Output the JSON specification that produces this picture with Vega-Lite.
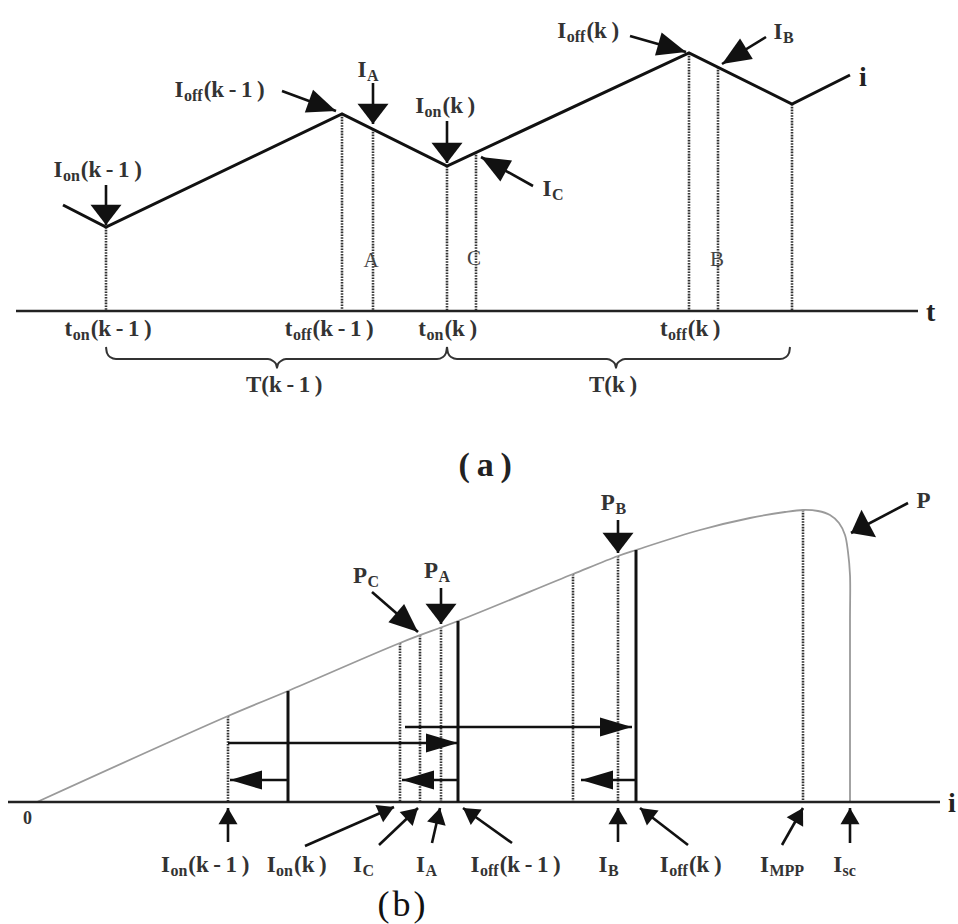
{
  "$schema": "https://vega.github.io/schema/vega-lite/v6.json",
  "width": 958,
  "height": 924,
  "autosize": {"type": "fit", "contains": "padding"},
  "padding": 0,
  "background": "white",
  "config": {"view": {"stroke": null}},
  "datasets": {
    "axes": [
      {"x": 16, "y": 311, "x2": 918, "y2": 311},
      {"x": 8, "y": 802, "x2": 940, "y2": 802}
    ],
    "bars": [
      {"x": 288, "y": 691, "y2": 802},
      {"x": 458, "y": 621, "y2": 802},
      {"x": 636, "y": 550, "y2": 802}
    ],
    "dots": [
      {"x": 106, "y": 227, "y2": 311},
      {"x": 342, "y": 114, "y2": 311},
      {"x": 373, "y": 129, "y2": 311},
      {"x": 447, "y": 166, "y2": 311},
      {"x": 476, "y": 152, "y2": 311},
      {"x": 689, "y": 53, "y2": 311},
      {"x": 718, "y": 67, "y2": 311},
      {"x": 792, "y": 104, "y2": 311},
      {"x": 228, "y": 716, "y2": 802},
      {"x": 400, "y": 643, "y2": 802},
      {"x": 420, "y": 635, "y2": 802},
      {"x": 441, "y": 627, "y2": 802},
      {"x": 573, "y": 574, "y2": 802},
      {"x": 618, "y": 556, "y2": 802},
      {"x": 803, "y": 510, "y2": 802}
    ],
    "wave": [
      {"o": 1, "x": 63, "y": 205},
      {"o": 2, "x": 106, "y": 227},
      {"o": 3, "x": 342, "y": 114},
      {"o": 4, "x": 447, "y": 166},
      {"o": 5, "x": 689, "y": 53},
      {"o": 6, "x": 792, "y": 104},
      {"o": 7, "x": 850, "y": 75}
    ],
    "pcurve": [
      {"o": 1, "x": 37, "y": 802},
      {"o": 2, "x": 228, "y": 716},
      {"o": 3, "x": 288, "y": 691},
      {"o": 4, "x": 400, "y": 643},
      {"o": 5, "x": 458, "y": 621},
      {"o": 6, "x": 573, "y": 574},
      {"o": 7, "x": 618, "y": 556},
      {"o": 8, "x": 636, "y": 550},
      {"o": 9, "x": 700, "y": 530},
      {"o": 10, "x": 750, "y": 518},
      {"o": 11, "x": 785, "y": 512},
      {"o": 12, "x": 803, "y": 510},
      {"o": 13, "x": 818, "y": 511},
      {"o": 14, "x": 830, "y": 515},
      {"o": 15, "x": 839, "y": 523},
      {"o": 16, "x": 845, "y": 535},
      {"o": 17, "x": 848, "y": 552},
      {"o": 18, "x": 850, "y": 575},
      {"o": 19, "x": 850, "y": 620},
      {"o": 20, "x": 850, "y": 802}
    ],
    "braces": [
      {"b": 1, "o": 1, "x": 106, "y": 347},
      {"b": 1, "o": 2, "x": 107, "y": 353},
      {"b": 1, "o": 3, "x": 110, "y": 357},
      {"b": 1, "o": 4, "x": 116, "y": 359},
      {"b": 1, "o": 5, "x": 268, "y": 359},
      {"b": 1, "o": 6, "x": 273, "y": 361},
      {"b": 1, "o": 7, "x": 276, "y": 364},
      {"b": 1, "o": 8, "x": 277, "y": 368},
      {"b": 1, "o": 9, "x": 278, "y": 364},
      {"b": 1, "o": 10, "x": 281, "y": 361},
      {"b": 1, "o": 11, "x": 286, "y": 359},
      {"b": 1, "o": 12, "x": 437, "y": 359},
      {"b": 1, "o": 13, "x": 443, "y": 357},
      {"b": 1, "o": 14, "x": 446, "y": 353},
      {"b": 1, "o": 15, "x": 447, "y": 347},
      {"b": 2, "o": 1, "x": 447, "y": 347},
      {"b": 2, "o": 2, "x": 448, "y": 353},
      {"b": 2, "o": 3, "x": 451, "y": 357},
      {"b": 2, "o": 4, "x": 457, "y": 359},
      {"b": 2, "o": 5, "x": 607, "y": 359},
      {"b": 2, "o": 6, "x": 612, "y": 361},
      {"b": 2, "o": 7, "x": 615, "y": 364},
      {"b": 2, "o": 8, "x": 616, "y": 368},
      {"b": 2, "o": 9, "x": 617, "y": 364},
      {"b": 2, "o": 10, "x": 620, "y": 361},
      {"b": 2, "o": 11, "x": 625, "y": 359},
      {"b": 2, "o": 12, "x": 780, "y": 359},
      {"b": 2, "o": 13, "x": 786, "y": 357},
      {"b": 2, "o": 14, "x": 789, "y": 353},
      {"b": 2, "o": 15, "x": 790, "y": 347}
    ],
    "arrows": [
      {"x": 106, "y": 225, "x2": 106, "y2": 185, "dir": 180, "h": "blunt"},
      {"x": 336, "y": 111, "x2": 282, "y2": 91, "dir": 110, "h": "dart"},
      {"x": 373, "y": 124, "x2": 373, "y2": 83, "dir": 180, "h": "blunt"},
      {"x": 447, "y": 163, "x2": 447, "y2": 121, "dir": 180, "h": "blunt"},
      {"x": 481, "y": 157, "x2": 533, "y2": 186, "dir": 299, "h": "dart"},
      {"x": 686, "y": 52, "x2": 630, "y2": 36, "dir": 106, "h": "dart"},
      {"x": 722, "y": 64, "x2": 766, "y2": 37, "dir": 238, "h": "dart"},
      {"x": 418, "y": 632, "x2": 372, "y2": 592, "dir": 131, "h": "dart"},
      {"x": 441, "y": 624, "x2": 441, "y2": 588, "dir": 180, "h": "blunt"},
      {"x": 618, "y": 553, "x2": 618, "y2": 520, "dir": 180, "h": "blunt"},
      {"x": 851, "y": 533, "x2": 908, "y2": 503, "dir": 242, "h": "blunt"},
      {"x": 458, "y": 743, "x2": 228, "y2": 743, "dir": 90, "h": "long"},
      {"x": 632, "y": 727, "x2": 405, "y2": 727, "dir": 90, "h": "long"},
      {"x": 230, "y": 780, "x2": 288, "y2": 780, "dir": 270, "h": "long"},
      {"x": 402, "y": 780, "x2": 458, "y2": 780, "dir": 270, "h": "long"},
      {"x": 581, "y": 780, "x2": 636, "y2": 780, "dir": 270, "h": "long"},
      {"x": 228, "y": 808, "x2": 228, "y2": 842, "dir": 0, "h": "small"},
      {"x": 394, "y": 807, "x2": 305, "y2": 846, "dir": 66, "h": "small"},
      {"x": 418, "y": 808, "x2": 379, "y2": 845, "dir": 47, "h": "small"},
      {"x": 440, "y": 808, "x2": 432, "y2": 843, "dir": 13, "h": "small"},
      {"x": 463, "y": 808, "x2": 512, "y2": 843, "dir": 305, "h": "small"},
      {"x": 618, "y": 808, "x2": 618, "y2": 842, "dir": 0, "h": "small"},
      {"x": 640, "y": 808, "x2": 688, "y2": 845, "dir": 308, "h": "small"},
      {"x": 803, "y": 808, "x2": 782, "y2": 845, "dir": 30, "h": "small"},
      {"x": 850, "y": 808, "x2": 850, "y2": 843, "dir": 0, "h": "small"}
    ],
    "boldText": [
      {"x": 53.5, "y": 177, "t": "I", "f": "m"},
      {"x": 62.9, "y": 181, "t": "on", "f": "s"},
      {"x": 80.8, "y": 177, "t": "(k\u2009-\u20091\u2009)", "f": "m"},
      {"x": 174.6, "y": 97, "t": "I", "f": "m"},
      {"x": 184, "y": 101, "t": "off", "f": "s"},
      {"x": 203.7, "y": 97, "t": "(k\u2009-\u20091\u2009)", "f": "m"},
      {"x": 357.5, "y": 77, "t": "I", "f": "m"},
      {"x": 366.9, "y": 81, "t": "A", "f": "s"},
      {"x": 415.2, "y": 113, "t": "I", "f": "m"},
      {"x": 424.6, "y": 117, "t": "on", "f": "s"},
      {"x": 442.5, "y": 113, "t": "(k\u2009)", "f": "m"},
      {"x": 542.5, "y": 196, "t": "I", "f": "m"},
      {"x": 551.9, "y": 200, "t": "C", "f": "s"},
      {"x": 557.3, "y": 38, "t": "I", "f": "m"},
      {"x": 566.7, "y": 42, "t": "off", "f": "s"},
      {"x": 586.4, "y": 38, "t": "(k\u2009)", "f": "m"},
      {"x": 773.5, "y": 39, "t": "I", "f": "m"},
      {"x": 782.9, "y": 43, "t": "B", "f": "s"},
      {"x": 859, "y": 86, "t": "i", "f": "ax"},
      {"x": 926, "y": 321, "t": "t", "f": "ax"},
      {"x": 64.6, "y": 336, "t": "t", "f": "m"},
      {"x": 72.8, "y": 340, "t": "on", "f": "s"},
      {"x": 90.7, "y": 336, "t": "(k\u2009-\u20091\u2009)", "f": "m"},
      {"x": 284.7, "y": 336, "t": "t", "f": "m"},
      {"x": 292.9, "y": 340, "t": "off", "f": "s"},
      {"x": 312.6, "y": 336, "t": "(k\u2009-\u20091\u2009)", "f": "m"},
      {"x": 418.3, "y": 336, "t": "t", "f": "m"},
      {"x": 426.5, "y": 340, "t": "on", "f": "s"},
      {"x": 444.4, "y": 336, "t": "(k\u2009)", "f": "m"},
      {"x": 659.9, "y": 336, "t": "t", "f": "m"},
      {"x": 668.1, "y": 340, "t": "off", "f": "s"},
      {"x": 687.8, "y": 336, "t": "(k\u2009)", "f": "m"},
      {"x": 246, "y": 392, "t": "T(k\u2009-\u20091\u2009)", "f": "m"},
      {"x": 589, "y": 392, "t": "T(k\u2009)", "f": "m"},
      {"x": 458.5, "y": 476, "t": "(\u2009a\u2009)", "f": "p"},
      {"x": 352.9, "y": 583, "t": "P", "f": "m"},
      {"x": 367.5, "y": 587, "t": "C", "f": "s"},
      {"x": 423.9, "y": 578, "t": "P", "f": "m"},
      {"x": 438.5, "y": 582, "t": "A", "f": "s"},
      {"x": 600.8, "y": 510, "t": "P", "f": "m"},
      {"x": 615.4, "y": 514, "t": "B", "f": "s"},
      {"x": 916.5, "y": 508, "t": "P", "f": "m"},
      {"x": 23, "y": 824, "t": "0", "f": "z"},
      {"x": 948, "y": 812, "t": "i", "f": "ax"},
      {"x": 161, "y": 872, "t": "I", "f": "m"},
      {"x": 170.4, "y": 876, "t": "on", "f": "s"},
      {"x": 188.3, "y": 872, "t": "(k\u2009-\u20091\u2009)", "f": "m"},
      {"x": 266.7, "y": 872, "t": "I", "f": "m"},
      {"x": 276.1, "y": 876, "t": "on", "f": "s"},
      {"x": 294, "y": 872, "t": "(k\u2009)", "f": "m"},
      {"x": 353, "y": 872, "t": "I", "f": "m"},
      {"x": 362.4, "y": 876, "t": "C", "f": "s"},
      {"x": 416, "y": 872, "t": "I", "f": "m"},
      {"x": 425.4, "y": 876, "t": "A", "f": "s"},
      {"x": 470.6, "y": 872, "t": "I", "f": "m"},
      {"x": 480, "y": 876, "t": "off", "f": "s"},
      {"x": 499.7, "y": 872, "t": "(k\u2009-\u20091\u2009)", "f": "m"},
      {"x": 598.5, "y": 872, "t": "I", "f": "m"},
      {"x": 607.9, "y": 876, "t": "B", "f": "s"},
      {"x": 659.8, "y": 872, "t": "I", "f": "m"},
      {"x": 669.2, "y": 876, "t": "off", "f": "s"},
      {"x": 688.9, "y": 872, "t": "(k\u2009)", "f": "m"},
      {"x": 760, "y": 872, "t": "I", "f": "m"},
      {"x": 769.4, "y": 876, "t": "MPP", "f": "s"},
      {"x": 833.2, "y": 872, "t": "I", "f": "m"},
      {"x": 842.6, "y": 876, "t": "sc", "f": "s"}
    ],
    "plainText": [
      {"x": 371, "y": 267, "t": "A", "f": "l"},
      {"x": 474, "y": 265, "t": "C", "f": "l"},
      {"x": 717, "y": 266, "t": "B", "f": "l"},
      {"x": 401.5, "y": 916, "t": "(\u200ab\u200a)", "f": "p"}
    ]
  },
  "encoding": {
    "x": {"field": "x", "type": "quantitative", "scale": {"domain": [0, 958], "nice": false, "zero": false}, "axis": null},
    "y": {"field": "y", "type": "quantitative", "scale": {"domain": [0, 924], "reverse": true, "nice": false, "zero": false}, "axis": null}
  },
  "layer": [
    {
      "data": {"name": "dots"},
      "mark": {"type": "rule", "color": "#333", "strokeWidth": 2.6, "strokeDash": [1.6, 1.2]},
      "encoding": {"y2": {"field": "y2"}}
    },
    {
      "data": {"name": "pcurve"},
      "mark": {"type": "line", "color": "#9a9a9a", "strokeWidth": 1.8, "interpolate": "catmull-rom"},
      "encoding": {"order": {"field": "o", "type": "quantitative"}}
    },
    {
      "data": {"name": "axes"},
      "mark": {"type": "rule", "color": "#222", "strokeWidth": 2.6},
      "encoding": {"x2": {"field": "x2"}, "y2": {"field": "y2"}}
    },
    {
      "data": {"name": "bars"},
      "mark": {"type": "rule", "color": "#111", "strokeWidth": 3},
      "encoding": {"y2": {"field": "y2"}}
    },
    {
      "data": {"name": "wave"},
      "mark": {"type": "line", "color": "#111", "strokeWidth": 3},
      "encoding": {"order": {"field": "o", "type": "quantitative"}}
    },
    {
      "data": {"name": "braces"},
      "mark": {"type": "line", "color": "#333", "strokeWidth": 2, "interpolate": "monotone"},
      "encoding": {"detail": {"field": "b", "type": "nominal"}, "order": {"field": "o", "type": "quantitative"}}
    },
    {
      "data": {"name": "arrows"},
      "mark": {"type": "rule", "color": "#111", "strokeWidth": 2.6},
      "encoding": {"x2": {"field": "x2"}, "y2": {"field": "y2"}}
    },
    {
      "data": {"name": "arrows"},
      "transform": [{"filter": "datum.h === 'blunt'"}],
      "mark": {"type": "point", "filled": true, "color": "#111", "opacity": 1, "strokeWidth": 0, "shape": "M0,0L-1,1.3L1,1.3Z", "size": 961},
      "encoding": {"angle": {"field": "dir", "type": "quantitative", "scale": null}}
    },
    {
      "data": {"name": "arrows"},
      "transform": [{"filter": "datum.h === 'dart'"}],
      "mark": {"type": "point", "filled": true, "color": "#111", "opacity": 1, "strokeWidth": 0, "shape": "M0,0L-0.75,1.8L0.75,1.8Z", "size": 1024},
      "encoding": {"angle": {"field": "dir", "type": "quantitative", "scale": null}}
    },
    {
      "data": {"name": "arrows"},
      "transform": [{"filter": "datum.h === 'long'"}],
      "mark": {"type": "point", "filled": true, "color": "#111", "opacity": 1, "strokeWidth": 0, "shape": "M0,0L-0.6,2L0.6,2Z", "size": 1024},
      "encoding": {"angle": {"field": "dir", "type": "quantitative", "scale": null}}
    },
    {
      "data": {"name": "arrows"},
      "transform": [{"filter": "datum.h === 'small'"}],
      "mark": {"type": "point", "filled": true, "color": "#111", "opacity": 1, "strokeWidth": 0, "shape": "M0,0L-1,1.7L1,1.7Z", "size": 361},
      "encoding": {"angle": {"field": "dir", "type": "quantitative", "scale": null}}
    },
    {
      "data": {"name": "boldText"},
      "transform": [{"filter": "datum.f === 'm'"}],
      "mark": {"type": "text", "font": "Liberation Serif", "fontWeight": "bold", "fontSize": 23, "align": "left", "baseline": "alphabetic", "color": "#333"},
      "encoding": {"text": {"field": "t"}}
    },
    {
      "data": {"name": "boldText"},
      "transform": [{"filter": "datum.f === 's'"}],
      "mark": {"type": "text", "font": "Liberation Serif", "fontWeight": "bold", "fontSize": 16, "align": "left", "baseline": "alphabetic", "color": "#333"},
      "encoding": {"text": {"field": "t"}}
    },
    {
      "data": {"name": "boldText"},
      "transform": [{"filter": "datum.f === 'ax'"}],
      "mark": {"type": "text", "font": "Liberation Serif", "fontWeight": "bold", "fontSize": 28, "align": "left", "baseline": "alphabetic", "color": "#222"},
      "encoding": {"text": {"field": "t"}}
    },
    {
      "data": {"name": "boldText"},
      "transform": [{"filter": "datum.f === 'z'"}],
      "mark": {"type": "text", "font": "Liberation Serif", "fontWeight": "bold", "fontSize": 18, "align": "left", "baseline": "alphabetic", "color": "#333"},
      "encoding": {"text": {"field": "t"}}
    },
    {
      "data": {"name": "boldText"},
      "transform": [{"filter": "datum.f === 'p'"}],
      "mark": {"type": "text", "font": "Liberation Serif", "fontWeight": "bold", "fontSize": 34, "align": "left", "baseline": "alphabetic", "color": "#222"},
      "encoding": {"text": {"field": "t"}}
    },
    {
      "data": {"name": "plainText"},
      "transform": [{"filter": "datum.f === 'l'"}],
      "mark": {"type": "text", "font": "Liberation Serif", "fontSize": 21, "align": "center", "baseline": "alphabetic", "color": "#444"},
      "encoding": {"text": {"field": "t"}}
    },
    {
      "data": {"name": "plainText"},
      "transform": [{"filter": "datum.f === 'p'"}],
      "mark": {"type": "text", "font": "Liberation Serif", "fontSize": 36, "align": "center", "baseline": "alphabetic", "color": "#111"},
      "encoding": {"text": {"field": "t"}}
    }
  ]
}
